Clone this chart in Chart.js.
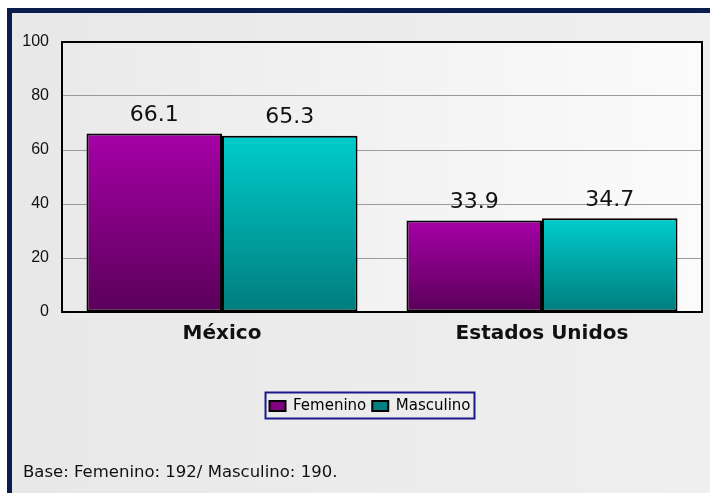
<!DOCTYPE html>
<html>
<head>
<meta charset="utf-8">
<script src="https://cdn.jsdelivr.net/npm/chart.js@4.4.1/dist/chart.umd.min.js"></script>
<style>
  html, body { margin: 0; padding: 0; background: #fff; }
  #wrap { position: absolute; left: 0; top: 0; width: 710px; height: 493px; }
</style>
</head>
<body>
<div id="wrap"><canvas id="chart" width="710" height="493"></canvas></div>
<script>
const categories = ["México", "Estados Unidos"];
const seriesNames = ["Femenino", "Masculino"];
const femenino = [66.1, 33.9];
const masculino = [65.3, 34.7];
const yTicks = [0, 20, 40, 60, 80, 100];
const footnote = "Base: Femenino: 192/ Masculino: 190.";

const NAVY = "#0b1d4d";

// vertical gradient per bar, from its top down to the zero line
function barGradient(top, bottom) {
  return c => {
    const chart = c.chart;
    if (!chart.chartArea || c.type !== "data") return bottom;
    const y = chart.scales.y;
    const g = chart.ctx.createLinearGradient(0, y.getPixelForValue(c.raw), 0, y.getPixelForValue(0));
    g.addColorStop(0, top);
    g.addColorStop(1, bottom);
    return g;
  };
}

const frame = {
  id: "frame",
  afterLayout(chart) {
    // legend sits centred on the outer frame, not on the canvas
    const lg = chart.legend;
    const dx = 370 - (lg.left + lg.right) / 2;
    lg.left += dx;
    lg.right += dx;
  },
  beforeDraw(chart) {
    const { ctx, chartArea: a } = chart;
    ctx.save();
    ctx.fillStyle = "#fff";
    ctx.fillRect(0, 0, 710, 493);
    const bg = ctx.createLinearGradient(7, 0, 710, 0);
    bg.addColorStop(0, "#e8e8e8");
    bg.addColorStop(1, "#efefef");
    ctx.fillStyle = bg;
    ctx.fillRect(7, 8, 703, 485);
    ctx.fillStyle = NAVY;
    ctx.fillRect(7, 8, 703, 5);
    ctx.fillRect(7, 8, 5, 485);
    const pg = ctx.createLinearGradient(a.left, 0, a.right, 0);
    pg.addColorStop(0, "#eaeaea");
    pg.addColorStop(1, "#fbfbfb");
    ctx.fillStyle = pg;
    ctx.fillRect(a.left, a.top, a.right - a.left, a.bottom - a.top);
    ctx.restore();
  },
  afterDatasetsDraw(chart) {
    const { ctx, chartArea: a } = chart;
    ctx.save();
    ctx.strokeStyle = "#000";
    ctx.lineWidth = 2;
    ctx.strokeRect(a.left, a.top, a.right - a.left, a.bottom - a.top);

    ctx.font = "22px 'DejaVu Sans'";
    ctx.fillStyle = "#111";
    ctx.textAlign = "center";
    ctx.textBaseline = "alphabetic";
    chart.data.datasets.forEach((ds, i) => {
      chart.getDatasetMeta(i).data.forEach((bar, j) => {
        ctx.fillText(ds.data[j].toFixed(1), bar.x, bar.y - 12.5);
      });
    });
    ctx.restore();
  },
  afterDraw(chart) {
    const { ctx } = chart;
    const hb = chart.legend.legendHitBoxes;
    ctx.save();
    if (hb && hb.length) {
      const l = Math.min(...hb.map(h => h.left)) - 4;
      const r = Math.max(...hb.map(h => h.left + h.width)) + 4;
      const t = hb[0].top - 6;
      const b = hb[0].top + hb[0].height + 5;
      ctx.strokeStyle = "#1a1a88";
      ctx.lineWidth = 2;
      ctx.strokeRect(l, t, r - l, b - t);
    }
    ctx.font = "16.5px 'DejaVu Sans'";
    ctx.fillStyle = "#111";
    ctx.textAlign = "left";
    ctx.textBaseline = "alphabetic";
    ctx.fillText(footnote, 23, 477);
    ctx.restore();
  }
};

new Chart(document.getElementById("chart"), {
  type: "bar",
  data: {
    labels: categories,
    datasets: [
      {
        label: seriesNames[0],
        data: femenino,
        backgroundColor: barGradient("#a600a6", "#5a005a"),
        legendColor: "#800080",
        borderColor: "#000",
        borderWidth: 2,
        borderSkipped: false
      },
      {
        label: seriesNames[1],
        data: masculino,
        backgroundColor: barGradient("#00cccc", "#007d7d"),
        legendColor: "#008080",
        borderColor: "#000",
        borderWidth: 2,
        borderSkipped: false
      }
    ]
  },
  options: {
    responsive: false,
    animation: false,
    devicePixelRatio: 1,
    layout: { padding: { left: 14, right: 8, top: 42, bottom: 69.5 } },
    datasets: { bar: { categoryPercentage: 0.847, barPercentage: 1 } },
    plugins: {
      tooltip: { enabled: false },
      legend: {
        position: "bottom",
        labels: {
          font: { family: "'DejaVu Sans'", size: 15 },
          color: "#111",
          boxWidth: 16,
          boxHeight: 10,
          padding: 6,
          generateLabels: chart => chart.data.datasets.map((ds, i) => ({
            text: ds.label,
            fillStyle: ds.legendColor,
            strokeStyle: "#000",
            lineWidth: 2,
            datasetIndex: i
          }))
        }
      }
    },
    scales: {
      x: {
        grid: { display: false },
        border: { display: false },
        ticks: {
          font: { family: "'DejaVu Sans'", size: 20, weight: "bold" },
          color: "#111",
          padding: 2
        },
        afterFit: s => { s.height = 80.5; }
      },
      y: {
        min: 0,
        max: 100,
        afterBuildTicks: s => { s.ticks = yTicks.map(v => ({ value: v })); },
        grid: { color: "#9a9a9a", drawTicks: false },
        border: { display: false },
        ticks: {
          font: { family: "'Liberation Sans'", size: 16 },
          color: "#111",
          padding: 13
        },
        afterFit: s => { s.width = 48; }
      }
    }
  },
  plugins: [frame]
});
</script>
</body>
</html>
